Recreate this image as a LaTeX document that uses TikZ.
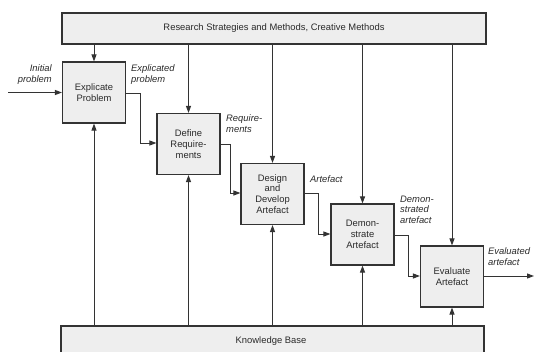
\documentclass[tikz,border=0pt]{standalone}
\usepackage{fontspec}
\setmainfont{Liberation Sans}
\usetikzlibrary{arrows.meta}
\definecolor{ln}{HTML}{333333}
\definecolor{tx}{HTML}{2A2A2A}
\definecolor{bx}{HTML}{EEEEEE}
\tikzset{
  stepbox/.style={draw=ln, line width=1.1pt, fill=bx, minimum width=63pt, minimum height=61pt,
    inner sep=1pt, align=center, font=\fontsize{9.4}{10.8}\selectfont, text=tx},
  bandbox/.style={draw=ln, line width=1.1pt, fill=bx, inner sep=0pt, font=\fontsize{9.4}{10.8}\selectfont, text=tx},
  arr/.style={draw=ln, line width=1pt, -{Triangle[length=7pt,width=5pt]}},
  lbl/.style={font=\fontsize{9.4}{10.8}\selectfont\itshape, text=tx, inner sep=0pt}
}
\begin{document}
\begin{tikzpicture}[x=1pt,y=-1pt]
\useasboundingbox (0,0) rectangle (537,351);
\clip (0,0) rectangle (537,351);
% bands
\node[bandbox, minimum width=424pt, minimum height=31pt] (top) at (274,28.5) {Research Strategies and Methods, Creative Methods};
\node[bandbox, minimum width=423pt, minimum height=40pt] (kb) at (272.5,346) {};
\node[text=tx, font=\fontsize{9.4}{10.8}\selectfont, inner sep=0pt] (kbt) at (271,341) {Knowledge Base};
% steps
\node[stepbox] (b1) at (94,92.5) {Explicate\\Problem};
\node[stepbox] (b2) at (188.5,144) {Define\\Require-\\ments};
\node[stepbox] (b3) at (272.5,194) {Design\\and\\Develop\\Artefact};
\node[stepbox] (b4) at (362.5,234.5) {Demon-\\strate\\Artefact};
\node[stepbox] (b5) at (452,276.5) {Evaluate\\Artefact};
% vertical arrows
\foreach \b in {b1,b2,b3,b4,b5}{
  \draw[arr] (top.south -| \b) -- (\b.north);
  \draw[arr] (kb.north -| \b) -- (\b.south);
}
% flow
\coordinate (ip) at (8,92.5);
\draw[arr] (ip) -- (b1.west);
\draw[arr] (b1.east |- 0,93) -| (140,143) -- (b2.west |- 0,143);
\draw[arr] (b2.east |- 0,144) -| (230,193) -- (b3.west |- 0,193);
\draw[arr] (b3.east |- 0,193) -| (318,234) -- (b4.west |- 0,234);
\draw[arr] (b4.east |- 0,235) -| (408,276) -- (b5.west |- 0,276);
\coordinate (ea) at (534,276);
\draw[arr] (b5.east |- 0,276) -- (ea);
% labels
\node[lbl, align=right, anchor=north east] (l1) at (52,64.5) {Initial\\problem};
\node[lbl, align=left, anchor=north west] (l2) at (131,64.5) {Explicated\\problem};
\node[lbl, align=left, anchor=north west] (l3) at (226,114.5) {Require-\\ments};
\node[lbl, align=left, anchor=north west] (l4) at (310,175.5) {Artefact};
\node[lbl, align=left, anchor=north west] (l5) at (400,195.5) {Demon-\\strated\\artefact};
\node[lbl, align=left, anchor=north west] (l6) at (488,247.5) {Evaluated\\artefact};
\end{tikzpicture}
\end{document}
